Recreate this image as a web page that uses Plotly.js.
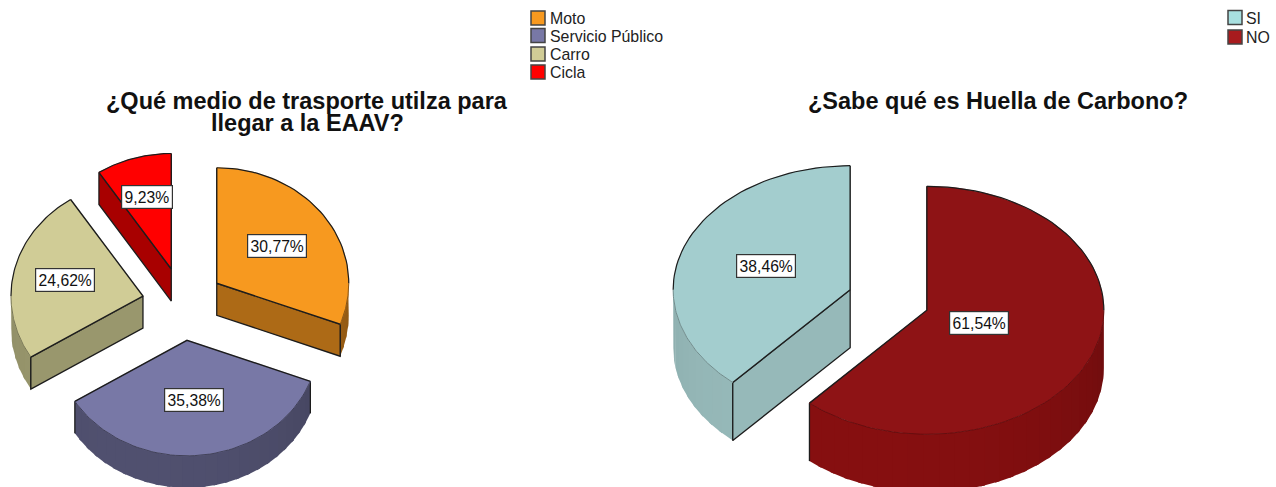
<!DOCTYPE html>
<html>
<head>
<meta charset="utf-8">
<script src="https://cdn.plot.ly/plotly-3.0.1.min.js"></script>
<style>html,body{margin:0;padding:0;background:#fff}#chart{width:1276px;height:487px}</style>
</head>
<body>
<div id="chart"></div>
<script>
// ---- data ----
const transportLabels = ['Moto', 'Servicio Público', 'Carro', 'Cicla'];
const transportShares = [30.77, 35.38, 24.62, 9.23];
const carbonLabels = ['SI', 'NO'];
const carbonOrder = ['NO', 'SI'];
const carbonShares = [61.54, 38.46];
const transportTitleLines = ['¿Qué medio de trasporte utilza para', 'llegar a la EAAV?'];
const carbonTitleLines = ['¿Sabe qué es Huella de Carbono?'];

// ---- styles ----
const transportColors = ['#F7991F', '#7878A6', '#D0CC96', '#FF0000'];
const transportSides = [[173, 106, 22], [80, 80, 111], [153, 151, 109], [168, 0, 0]];
const transportSwatches = ['#F7991F', '#7878A6', '#D0CC96', '#FF0000'];
const carbonColors = ['#8E1315', '#A3CDCE'];
const carbonSides = [[134, 15, 16], [150, 185, 185]];
const carbonSwatches = { SI: '#A8E0E0', NO: '#A81B1E' };
const transportGeom = { cx: 183, cy: 304, rx: 132, ry: 115.5, depth: 32, popX: 41, popY: 36.5, labelAt: [0.555, 0.53, 0.605, 0.645] };
const carbonGeom = { cx: 888.5, cy: 300, rx: 177, ry: 124, depth: 58, popX: 41, popY: 29, labelAt: [0.315, 0.51] };
const OUTLINE = '#1c1c1c';
const FONT = 'Liberation Sans, Arial, sans-serif';

const traces = [], notes = [];
const rad = d => d * Math.PI / 180;
const rgb = c => 'rgb(' + c.map(v => Math.round(v)).join(',') + ')';

function poly(xs, ys, color, lineWidth) {
  traces.push({ type: 'scatter', mode: 'lines', x: xs, y: ys, fill: 'toself', fillcolor: color,
    line: { color, width: lineWidth }, showlegend: false, hoverinfo: 'skip' });
}
function stroke(xs, ys, color, width) {
  traces.push({ type: 'scatter', mode: 'lines', x: xs, y: ys, line: { color, width },
    showlegend: false, hoverinfo: 'skip' });
}

function drawPie(values, colors, sides, g) {
  const total = values.reduce((a, b) => a + b, 0);
  let a0 = 0;
  const slices = values.map((v, i) => {
    const a1 = a0 + 360 * v / total;
    const mid = (a0 + a1) / 2;
    const s = { i, v, a0, a1, mid,
      ax: g.cx + g.popX * Math.sin(rad(mid)),
      ay: g.cy - g.popY * Math.cos(rad(mid)) };
    a0 = a1;
    return s;
  });
  const px = (s, a) => s.ax + g.rx * Math.sin(rad(a));
  const py = (s, a) => s.ay - g.ry * Math.cos(rad(a));
  const shade = (c, a) => { const f = 1 - 0.18 * Math.pow((a - 205) / 115, 2); return rgb(c.map(v => v * f)); };
  const arc = (s, from, to, n) => {
    const xs = [], ys = [];
    for (let k = 0; k <= n; k++) { const a = from + (to - from) * k / n; xs.push(px(s, a)); ys.push(py(s, a)); }
    return [xs, ys];
  };
  const order = slices.slice().sort((p, q) => p.ay - q.ay);
  order.forEach(s => {
    const side = sides[s.i];
    // outer wall, lower half of the rim only
    const from = Math.max(s.a0, 90), to = Math.min(s.a1, 270);
    if (to > from) {
      const n = Math.max(1, Math.round((to - from) / 5));
      for (let k = 0; k < n; k++) {
        const b0 = from + (to - from) * k / n;
        const b1 = Math.min(to, from + (to - from) * (k + 1) / n + 1.5);
        const [xa, ya] = arc(s, b0, b1, 5);
        const xs = xa.concat(xa.slice().reverse(), [xa[0]]);
        const ys = ya.concat(ya.slice().reverse().map(y => y + g.depth), [ya[0]]);
        poly(xs, ys, shade(side, (b0 + b1) / 2), 0);
      }
      [s.a0, s.a1].forEach(a => {
        if (a > 90 && a < 270) stroke([px(s, a), px(s, a)], [py(s, a), py(s, a) + g.depth], OUTLINE, 1.3);
      });
    }
    // radial walls that face the viewer
    [[s.a0, Math.sin(rad(s.a0)) < -1e-6], [s.a1, Math.sin(rad(s.a1)) > 1e-6]].forEach(([a, vis]) => {
      if (!vis) return;
      const X = [s.ax, px(s, a), px(s, a), s.ax, s.ax];
      const Y = [s.ay, py(s, a), py(s, a) + g.depth, s.ay + g.depth, s.ay];
      poly(X, Y, rgb(side), 0);
      stroke(X, Y, OUTLINE, 1.3);
    });
    // top face
    const [rx, ry] = arc(s, s.a0, s.a1, 90);
    const X = [s.ax].concat(rx, [s.ax]), Y = [s.ay].concat(ry, [s.ay]);
    poly(X, Y, colors[s.i], 0.5);
    // top-face outline: black straight edges and back rim, softer front rim
    stroke([px(s, s.a0), s.ax, px(s, s.a1)], [py(s, s.a0), s.ay, py(s, s.a1)], OUTLINE, 1.4);
    const fb0 = Math.max(s.a0, 90), fb1 = Math.min(s.a1, 270);
    if (fb1 > fb0) {
      const [fx, fy] = arc(s, fb0, fb1, 60);
      stroke(fx, fy, rgb(side.map(v => v * 0.72)), 0.9);
    }
    if (s.a0 < 90) { const [bx, by] = arc(s, s.a0, Math.min(s.a1, 90), 40); stroke(bx, by, OUTLINE, 1.2); }
    if (s.a1 > 270) { const [bx, by] = arc(s, Math.max(s.a0, 270), s.a1, 40); stroke(bx, by, OUTLINE, 1.2); }
    // value label
    const f = g.labelAt[s.i];
    notes.push({ x: s.ax + f * g.rx * Math.sin(rad(s.mid)), y: s.ay - f * g.ry * Math.cos(rad(s.mid)) - 1,
      xref: 'x', yref: 'y', showarrow: false, text: s.v.toFixed(2).replace('.', ',') + '%',
      font: { family: FONT, size: 15.7, color: '#111' },
      bgcolor: '#fff', bordercolor: '#333', borderwidth: 1.2, borderpad: 2.4 });
  });
}

drawPie(transportShares, transportColors, transportSides, transportGeom);
drawPie(carbonShares, carbonColors, carbonSides, carbonGeom);

function legendEntry(name, color, legendId) {
  traces.push({ type: 'scatter', mode: 'markers', x: [null], y: [null], name, legend: legendId, showlegend: true,
    marker: { symbol: 'square', size: 14, color, line: { color: '#444', width: 1.5 } }, hoverinfo: 'skip' });
}
transportLabels.forEach((n, i) => legendEntry(n, transportSwatches[i], 'legend'));
carbonLabels.forEach(n => legendEntry(n, carbonSwatches[n], 'legend2'));

const legendFont = { family: FONT, size: 15.9, color: '#222' };
const titleFont = { family: FONT, size: 23.5, color: '#111' };
function titleNotes(lines, xc, yStart) {
  lines.forEach((t, i) => notes.push({ x: xc, y: yStart + i * 21.5, xref: 'x', yref: 'y', showarrow: false,
    text: '<b>' + t + '</b>', font: titleFont, align: 'center' }));
}
titleNotes(transportTitleLines, 307, 101);
titleNotes(carbonTitleLines, 998, 101);

const layout = {
  width: 1276, height: 487,
  margin: { l: 0, r: 0, t: 0, b: 0, autoexpand: false },
  paper_bgcolor: '#fff', plot_bgcolor: '#fff',
  xaxis: { range: [0, 1276], visible: false, fixedrange: true },
  yaxis: { range: [487, 0], visible: false, fixedrange: true },
  showlegend: true, hovermode: false,
  legend: { x: 518 / 1276, y: 1 - 6 / 487, xanchor: 'left', yanchor: 'top', font: legendFont, tracegroupgap: 0, bgcolor: 'rgba(0,0,0,0)' },
  legend2: { x: 1215 / 1276, y: 1 - 6 / 487, xanchor: 'left', yanchor: 'top', font: legendFont, tracegroupgap: 0, bgcolor: 'rgba(0,0,0,0)' },
  annotations: notes
};

// compact legend rows and swatch/text gap (row centres relative to the legend top)
const legendRows = { legend: [12, 29.5, 48, 66], legend2: [11.5, 31] };
const legendTextX = { legend: 32, legend2: 31 };
function tuneLegends(gd) {
  Object.keys(legendRows).forEach(id => {
    const box = gd.querySelector('g.' + id);
    if (!box) return;
    box.querySelectorAll('.traces').forEach((tr, i) => {
      tr.setAttribute('transform', 'translate(0,' + legendRows[id][i] + ')');
      const t = tr.querySelector('.' + id + 'text');
      if (t) t.setAttribute('x', legendTextX[id]);
    });
  });
}
Plotly.newPlot('chart', traces, layout, { displayModeBar: false, staticPlot: true }).then(gd => {
  tuneLegends(gd);
  gd.on('plotly_afterplot', () => tuneLegends(gd));
  requestAnimationFrame(() => tuneLegends(gd));
  setTimeout(() => tuneLegends(gd), 60);
  setTimeout(() => tuneLegends(gd), 250);
});
</script>
</body>
</html>
